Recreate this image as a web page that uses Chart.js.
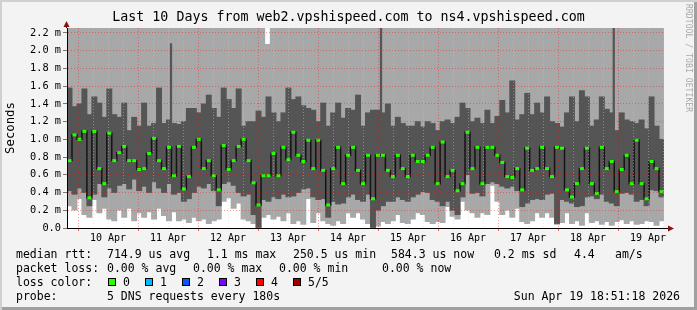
<!DOCTYPE html>
<html>
<head>
<meta charset="utf-8">
<script src="https://cdn.jsdelivr.net/npm/chart.js@4.4.1/dist/chart.umd.min.js"></script>
<style>
  html, body { margin: 0; padding: 0; background: #f3f3f3; }
  #frame {
    position: relative; width: 697px; height: 310px; background: #f3f3f3;
    box-shadow: inset 2px 2px 0 #d0d0d0, inset -3px -3px 0 #a0a0a0;
    font-family: 'DejaVu Sans Mono', monospace; color: #000;
  }
  #chart { position: absolute; left: 0; top: 0; }
  .row { position: absolute; left: 0; width: 697px; height: 14px; font-size: 11.5px; line-height: 14px; }
  .row span { position: absolute; top: 0; white-space: pre; }
  .row i { position: absolute; top: 3px; width: 8px; height: 8px; box-sizing: border-box; border: 1px solid #000; }
  #mark {
    position: absolute; left: 684px; top: 4px; writing-mode: vertical-rl;
    font-size: 8px; line-height: 9px; color: #a8a8a8; letter-spacing: 0.1px;
  }
</style>
</head>
<body>
<div id="frame">
  <canvas id="chart" width="697" height="310"></canvas>
  <div id="mark">RRDTOOL / TOBI OETIKER</div>

  <div class="row" style="top:247px">
    <span style="left:16px">median rtt:</span>
    <span style="left:107px">714.9 us avg</span>
    <span style="left:207px">1.1 ms max</span>
    <span style="left:293px">250.5 us min</span>
    <span style="left:391px">584.3 us now</span>
    <span style="left:494px">0.2 ms sd</span>
    <span style="left:574px">4.4</span>
    <span style="left:615px">am/s</span>
  </div>
  <div class="row" style="top:261px">
    <span style="left:16px">packet loss:</span>
    <span style="left:107px">0.00 % avg</span>
    <span style="left:193px">0.00 % max</span>
    <span style="left:279px">0.00 % min</span>
    <span style="left:382px">0.00 % now</span>
  </div>
  <div class="row" id="lossRow" style="top:275px">
    <span style="left:16px">loss color:</span>
  </div>
  <div class="row" style="top:289px">
    <span style="left:16px">probe:</span>
    <span style="left:107px">5 DNS requests every 180s</span>
    <span style="right:17px">Sun Apr 19 18:51:18 2026</span>
  </div>
</div>

<script>
// ── Datos: 120 columnas de ~2 h (9 Apr 19:30 → 19 Apr 18:20), valores en ms ──
const TITLE = 'Last 10 Days from web2.vpshispeed.com to ns4.vpshispeed.com';
const DAY_LABELS = ['10 Apr','11 Apr','12 Apr','13 Apr','14 Apr','15 Apr','16 Apr','17 Apr','18 Apr','19 Apr'];
const Y_LABELS = ['0.0','0.2 m','0.4 m','0.6 m','0.8 m','1.0 m','1.2 m','1.4 m','1.6 m','1.8 m','2.0 m','2.2 m'];

// ping más rápido (borde superior del blanco)
const MIN_RTT = [
  0.25,0.2,0.33,0.15,0.12,0.32,0.17,0.22,0.1,0.08,
  0.2,0.12,0.22,0.08,0.17,0.12,0.18,0.1,0.22,0.14,
  0.08,0.18,0.08,0.1,0.06,0.12,0.08,0.1,0.05,0.08,
  0.1,0.3,0.34,0.22,0.28,0.1,0.08,0.05,0.0,0.12,
  0.15,0.1,0.13,0.08,0.17,0.05,0.08,0.04,0.33,0.06,
  0.17,0.08,0.05,0.03,0.08,0.05,0.17,0.12,0.17,0.1,
  0.05,0.0,0.02,0.07,0.05,0.08,0.15,0.06,0.05,0.1,
  0.17,0.15,0.07,0.05,0.07,0.06,0.24,0.13,0.1,0.3,
  0.2,0.17,0.12,0.17,0.15,0.48,0.3,0.15,0.2,0.12,
  0.22,0.07,0.05,0.08,0.17,0.12,0.17,0.12,0.04,0.06,
  0.17,0.05,0.08,0.03,0.17,0.06,0.08,0.04,0.07,0.03,
  0.07,0.09,0.05,0.08,0.04,0.05,0.08,0.07,0.03,0.08
];

// humo oscuro: borde inferior y superior
const SMOKE_LO = [
  0.42,0.38,0.45,0.4,0.25,0.38,0.5,0.35,0.45,0.4,
  0.48,0.5,0.44,0.55,0.42,0.47,0.4,0.52,0.45,0.4,
  0.5,0.38,0.4,0.3,0.33,0.4,0.47,0.45,0.5,0.42,
  0.25,0.5,0.52,0.48,0.4,0.36,0.38,0.15,0.0,0.32,
  0.3,0.35,0.33,0.38,0.35,0.36,0.4,0.44,0.45,0.35,
  0.32,0.33,0.12,0.3,0.27,0.28,0.35,0.38,0.32,0.3,
  0.38,0.0,0.2,0.25,0.3,0.3,0.35,0.32,0.3,0.35,
  0.38,0.41,0.4,0.32,0.3,0.25,0.3,0.2,0.15,0.35,
  0.6,0.39,0.4,0.36,0.5,0.52,0.5,0.47,0.45,0.47,
  0.42,0.24,0.28,0.32,0.33,0.32,0.38,0.39,0.05,0.32,
  0.3,0.28,0.24,0.25,0.35,0.36,0.33,0.38,0.3,0.28,
  0.25,0.39,0.4,0.38,0.3,0.32,0.25,0.43,0.42,0.35
];
const SMOKE_HI = [
  1.58,1.37,1.4,1.57,1.28,1.48,1.41,1.25,1.57,1.28,
  1.25,1.41,1.1,1.25,1.15,1.41,1.15,1.18,1.58,1.18,
  1.22,1.18,1.17,1.2,1.35,1.35,1.3,1.4,1.5,1.35,
  1.25,1.58,1.45,1.35,1.57,1.15,1.2,1.2,1.32,1.25,
  1.48,1.3,1.2,1.3,1.58,1.45,1.48,1.38,1.35,1.33,
  1.2,1.41,1.15,1.3,1.41,1.24,1.35,1.33,1.5,1.15,
  1.3,1.33,1.33,1.3,1.4,1.15,1.25,1.18,1.15,1.15,
  1.2,1.14,1.2,1.18,1.1,1.2,1.22,1.18,1.25,1.41,
  1.35,1.2,1.24,1.18,1.33,1.18,1.26,1.44,1.3,1.66,
  1.22,1.28,1.52,1.28,1.41,1.3,1.48,1.2,1.18,1.14,
  1.3,1.48,1.2,1.55,1.48,1.15,1.22,1.48,1.34,1.3,
  1.1,1.3,1.22,1.2,1.18,1.22,1.12,1.48,1.15,1.0
];

// mediana (puntos verdes)
const MEDIAN = [
  0.76,1.05,1.0,1.09,0.34,1.09,0.67,0.5,1.07,0.76,
  0.85,0.92,0.76,0.76,0.66,0.67,0.84,1.01,0.76,0.67,
  0.91,0.59,0.92,0.44,0.58,0.91,1.0,0.67,0.76,0.59,
  0.43,0.93,0.66,0.76,0.92,1.0,0.76,0.51,0.26,0.59,
  0.59,0.84,0.59,0.91,0.77,1.08,0.82,0.75,0.99,0.67,
  0.99,0.65,0.26,0.67,0.91,0.5,0.82,0.91,0.65,0.5,
  0.82,0.33,0.82,0.82,0.65,0.58,0.82,0.67,0.58,0.82,
  0.75,0.75,0.82,0.91,0.5,0.97,0.58,0.65,0.42,0.5,
  1.08,0.67,0.91,0.5,0.91,0.91,0.82,0.74,0.58,0.57,
  0.67,0.43,0.9,0.65,0.67,0.91,0.67,0.58,0.91,0.9,
  0.43,0.35,0.5,0.67,0.9,0.5,0.39,0.91,0.67,0.75,
  0.41,0.66,0.82,0.5,0.99,0.5,0.33,0.75,0.67,0.41
];

// picos finos (hora, valor) y huecos blancos arriba (hora, valor)
const SPIKE_HOURS = [41.6, 125.6, 218.7];
const SPIKE_TOPS  = [2.08, 2.4, 2.4];
const GAP_HOURS   = [80.2];
const GAP_LOWS    = [2.08];

// ── Eje de tiempo ────────────────────────────────────────────────────────────
const COL_H     = 1.99;    // horas por columna
const X_MAX     = 238.8;   // 10 días visibles
const MIDNIGHT0 = 4.4;     // 10 Apr 00:00
const Y_MAX     = 2.256;
const TOP_CLEAR = 2.4;     // el humo claro sigue por encima del gráfico

const LOSS_LABELS = ['0', '1', '2', '3', '4', '5/5'];
const LOSS_COLORS = ['#26ff00', '#00b8ff', '#0059ff', '#7e00ff', '#ff0000', '#a10000'];

const C_LIGHT = '#a8a8a8';
const C_DARK  = '#555555';
const C_MGRID = 'rgba(255,0,0,0.38)';
const C_GRID  = 'rgba(200,200,200,0.45)';

// leyenda de colores de pérdida
const lossRow = document.getElementById('lossRow');
LOSS_LABELS.forEach((lab, k) => {
  const box = document.createElement('i');
  box.style.left = (108 + 37 * k) + 'px';
  box.style.background = LOSS_COLORS[k];
  const txt = document.createElement('span');
  txt.style.left = (123 + 37 * k) + 'px';
  txt.textContent = lab;
  lossRow.appendChild(box);
  lossRow.appendChild(txt);
});

const colX = i => (i + 0.5) * COL_H;

const lightData  = MIN_RTT.map((v, i) => ({ x: colX(i), y: [v, TOP_CLEAR] }));
const darkData   = SMOKE_LO.map((v, i) => ({ x: colX(i), y: [v, SMOKE_HI[i]] }));
const medianData = MEDIAN.map((v, i) => ({ x: colX(i), y: v }));
const spikeData  = SPIKE_HOURS.map((h, k) => ({ x: h, y: [1.1, SPIKE_TOPS[k]] }));
const gapData    = GAP_HOURS.map((h, k) => ({ x: h, y: [GAP_LOWS[k], TOP_CLEAR] }));

const plotBackground = {
  id: 'plotBackground',
  beforeDraw(chart) {
    const { ctx, chartArea: a } = chart;
    ctx.save();
    ctx.fillStyle = '#ffffff';
    ctx.fillRect(a.left, a.top, a.right - a.left, a.bottom - a.top);
    ctx.restore();
  }
};

const axisArrows = {
  id: 'axisArrows',
  afterDraw(chart) {
    const { ctx, chartArea: a } = chart;
    ctx.save();
    ctx.strokeStyle = '#000';
    ctx.lineWidth = 1;
    ctx.beginPath();
    ctx.moveTo(a.left - 0.5, a.top); ctx.lineTo(a.left - 0.5, a.top - 2);
    ctx.moveTo(a.right, a.bottom + 0.5); ctx.lineTo(a.right + 4, a.bottom + 0.5);
    ctx.stroke();
    ctx.fillStyle = '#8b1010';
    ctx.beginPath();
    ctx.moveTo(a.left - 3.5, a.top - 1); ctx.lineTo(a.left + 2.5, a.top - 1); ctx.lineTo(a.left - 0.5, a.top - 7);
    ctx.fill();
    ctx.beginPath();
    ctx.moveTo(a.right + 4, a.bottom - 2.5); ctx.lineTo(a.right + 4, a.bottom + 3.5); ctx.lineTo(a.right + 10, a.bottom + 0.5);
    ctx.fill();
    ctx.restore();
  }
};

Chart.defaults.font.family = "'DejaVu Sans Mono', monospace";
Chart.defaults.color = '#000';

const isMidnight = v => Math.abs(((v - MIDNIGHT0) % 24 + 24) % 24) < 0.01;

new Chart(document.getElementById('chart'), {
  type: 'bar',
  data: {
    datasets: [
      {
        type: 'line', label: 'median', data: medianData, order: 0, yAxisID: 'y',
        stepped: 'middle', borderColor: '#141414', borderWidth: 1.5,
        pointStyle: 'line', pointRadius: 2, pointBorderWidth: 3,
        pointBorderColor: '#26ff00', pointBackgroundColor: '#26ff00',
      },
      { label: 'spikes', data: spikeData, order: 1, yAxisID: 'y', stack: 'smoke',
        backgroundColor: C_DARK, barThickness: 1.6, clip: 0 },
      { label: 'smoke', data: darkData, order: 2, yAxisID: 'y', stack: 'smoke',
        backgroundColor: C_DARK, barThickness: 5.3, clip: 0 },
      { label: 'gaps', data: gapData, order: 3, yAxisID: 'y', stack: 'smoke',
        backgroundColor: '#ffffff', barThickness: 4, clip: 0 },
      { label: 'range', data: lightData, order: 4, yAxisID: 'y', stack: 'smoke',
        backgroundColor: C_LIGHT, barThickness: 5.3, clip: 0 },
    ]
  },
  options: {
    responsive: false,
    animation: false,
    events: [],
    layout: { padding: 0 },
    plugins: {
      legend: { display: false },
      tooltip: { enabled: false },
      title: {
        display: true, text: TITLE, color: '#000',
        font: { size: 13.3, weight: 'normal' },
        padding: { top: 10, bottom: 2.04 },
      },
    },
    scales: {
      x: {
        type: 'linear', min: 0, max: X_MAX, offset: false,
        afterBuildTicks: s => {
          const t = [];
          for (let v = MIDNIGHT0; v <= X_MAX; v += 6) t.push({ value: v });
          s.ticks = t;
        },
        afterFit: s => { s.height = 82; },
        ticks: {
          autoSkip: false, maxRotation: 0, minRotation: 0, padding: 1,
          font: { size: 10 },
          callback: v => {
            const k = Math.round((v - MIDNIGHT0) / 6);
            return k % 4 === 2 ? DAY_LABELS[(k - 2) / 4] : '';
          },
        },
        grid: {
          z: 1, offset: false, tickLength: 3,
          color: c => isMidnight(c.tick.value) ? C_MGRID : C_GRID,
          tickColor: c => isMidnight(c.tick.value) ? 'rgba(255,0,0,0.6)' : 'rgba(0,0,0,0)',
        },
        border: { z: 2, color: '#000', width: 1, dash: [1, 2] },
      },
      y: {
        position: 'left', min: 0, max: Y_MAX, stacked: false,
        afterBuildTicks: s => {
          const t = [];
          for (let k = 0; k <= 22; k++) t.push({ value: k / 10 });
          s.ticks = t;
        },
        afterFit: s => { s.width = 67; },
        ticks: {
          padding: 2, font: { size: 10.3 },
          callback: (v, i) => i % 2 === 0 ? Y_LABELS[i / 2] : '',
        },
        grid: {
          z: 1, tickLength: 4,
          color: c => c.index % 2 === 0 ? C_MGRID : C_GRID,
          tickColor: c => c.index % 2 === 0 ? '#777' : 'rgba(0,0,0,0)',
        },
        border: { z: 2, color: '#000', width: 1, dash: [1, 2] },
        title: {
          display: true, text: 'Seconds', color: '#000',
          font: { size: 12.3 }, padding: { top: 3, bottom: 0 },
        },
      },
      yR: {
        position: 'right', min: 0, max: Y_MAX,
        afterFit: s => { s.width = 33; },
        ticks: { display: false },
        grid: { display: false },
        border: { display: false },
      },
    },
  },
  plugins: [plotBackground, axisArrows],
});
</script>
</body>
</html>
